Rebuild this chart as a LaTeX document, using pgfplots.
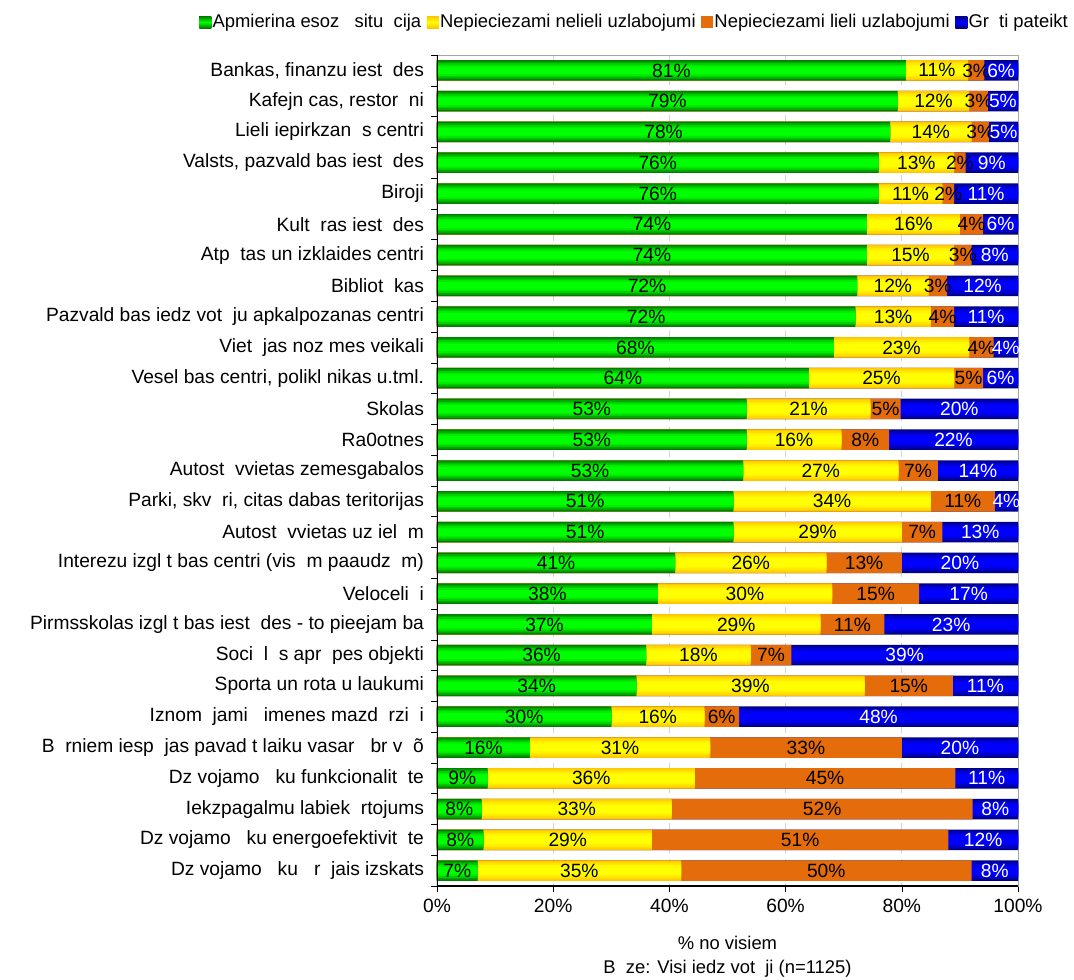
\documentclass[border=0pt]{standalone}
\usepackage{fontspec}
\setmainfont{Liberation Sans}
\usepackage{pgfplots}
\usepackage{pgfplotstable}
\pgfplotsset{compat=1.18}
\definecolor{gdark}{RGB}{0,120,0}
\definecolor{glight}{RGB}{0,255,0}
\definecolor{ydark}{RGB}{255,196,0}
\definecolor{ylight}{RGB}{255,255,0}
\definecolor{orng}{RGB}{228,108,10}
\definecolor{bdark}{RGB}{0,0,128}
\definecolor{blight}{RGB}{0,0,255}
\pgfplotstableread{
a b c d
80.7 10.7 2.8 5.8
79.3 12.3 3.2 5.2
78 14 3 5
76 13 2 9
76 11 2 11
74 16 4 6
74 15 3 8
72.3 12.3 3.2 12.2
72 13 4 11
68.3 23.3 4.2 4.2
64 25 5 6
53.3 21.3 5.2 20.2
53.3 16.3 8.2 22.2
52.7 26.7 6.8 13.8
51 34 11 4
51 29 7 13
41 26 13 20
38 30 15 17
37 29 11 23
36 18 7 39
34.3 39.3 15.2 11.2
30 16 6 48
16 31 33 20
8.7 35.7 44.8 10.8
7.7 32.7 51.8 7.8
8 29 51 12
7 35 50 8
}\data
\pgfplotsset{
  lay/.style={xbar, bar shift=0pt, draw=none, forget plot, bar width=#1},
  lab/.style={xbar, bar shift=0pt, bar width=0pt, draw=none, fill=none, forget plot,
    point meta=explicit,
    visualization depends on={\thisrow{#1} \as \segval},
    nodes near coords={\pgfmathprintnumber[fixed,precision=0]{\pgfplotspointmeta}\%},
    every node near coord/.append style={anchor=center, xshift={-\segval*1.4525pt},
      font=\fontsize{9.6}{11.5}\selectfont}},
}
\newcommand\gradbars[3]{%
  \addplot[lay=10.25pt, fill=#3!5!#2] table[x expr={#1}, y expr=\coordindex]{\data};
  \addplot[lay=8.8pt, fill=#3!35!#2] table[x expr={#1}, y expr=\coordindex]{\data};
  \addplot[lay=7.2pt, fill=#3!62!#2] table[x expr={#1}, y expr=\coordindex]{\data};
  \addplot[lay=5.6pt, fill=#3!85!#2] table[x expr={#1}, y expr=\coordindex]{\data};
  \addplot[lay=3.8pt, fill=#3] table[x expr={#1}, y expr=\coordindex]{\data};
}
\begin{document}
\begin{tikzpicture}
\begin{axis}[
  name=ax,
  scale only axis, width=290.5pt, height=415.5pt,
  every axis plot post/.append style={bar shift=0pt},
  xmin=0, xmax=100,
  ymin=-0.5, ymax=26.5, y dir=reverse,
  font=\fontsize{9.6}{11.5}\selectfont,
  /pgf/number format/assume math mode=true,
  xtick={0,20,40,60,80,100},
  xticklabel={\pgfmathprintnumber{\tick}\%},
  ytick={0,...,26},
  yticklabels={
    {Bankas, finanzu iest~~des},
    {Kafejn~cas, restor~~ni},
    {Lieli iepirkzan~~s centri},
    {Valsts, pazvald~bas iest~~des},
    {Biroji},
    {Kult~~ras iest~~des},
    {Atp~~tas un izklaides centri},
    {Bibliot~~kas},
    {Pazvald~bas iedz~vot~~ju apkalpozanas centri},
    {Viet~~jas noz~mes veikali},
    {Vesel~bas centri, polikl~nikas u.tml.},
    {Skolas},
    {Ra0otnes},
    {Autost~~vvietas zemesgabalos},
    {Parki, skv~~ri, citas dabas teritorijas},
    {Autost~~vvietas uz iel~~m},
    {Interezu izgl~t~bas centri (vis~~m paaudz~~m)},
    {Veloceli~~i},
    {Pirmsskolas izgl~t~bas iest~~des - to pieejam~ba},
    {Soci~~l~~s apr~~pes objekti},
    {Sporta un rota~u laukumi},
    {Iznom~~jami ~~imenes mazd~~rzi~~i},
    {B~~rniem iesp~~jas pavad~t laiku vasar~~~br~v~~õ},
    {Dz~vojamo~~~ku funkcionalit~~te},
    {Iekzpagalmu labiek~~rtojums},
    {Dz~vojamo~~~ku energoefektivit~~te},
    {Dz~vojamo~~~ku~~~r~~jais izskats}},
  minor ytick={-0.5,0.5,...,26.5},
  every major y tick/.append style={draw=none},
  tick align=outside, major tick length=3pt, minor tick length=3pt,
  tick style={black},
  xtick pos=bottom, ytick pos=left,
  xmajorgrids, grid style={dashed, gray!35},
  axis line style={gray!70},
  xlabel={\% no visiem\\B~~ze: Visi iedz~vot~~ji (n=1125)},
  xlabel style={align=center, font=\fontsize{9.2}{11.8}\selectfont, yshift=-5pt},
  legend style={at={(axis description cs:0,1)}, anchor=west, xshift=-119pt, yshift=16.5pt,
    draw=none, fill=none, font=\fontsize{9.2}{11}\selectfont, inner sep=0pt,
    nodes={inner sep=0.6pt},
    /tikz/every even column/.append style={column sep=2.2pt}},
  legend columns=-1,
  legend image code/.code={\fill[#1,draw=none] (0pt,-3pt) rectangle (6pt,3pt);},
]
\addlegendimage{top color=gdark, bottom color=gdark, middle color=glight}
\addlegendimage{top color=ydark, bottom color=ydark, middle color=ylight}
\addlegendimage{fill=orng}
\addlegendimage{top color=bdark, bottom color=bdark, middle color=blight}
\gradbars{\thisrow{a}+\thisrow{b}+\thisrow{c}+\thisrow{d}}{bdark}{blight}
\addplot[lay=10.25pt, fill=orng] table[x expr={\thisrow{a}+\thisrow{b}+\thisrow{c}}, y expr=\coordindex]{\data};
\gradbars{\thisrow{a}+\thisrow{b}}{ydark}{ylight}
\gradbars{\thisrow{a}}{gdark}{glight}
\addplot[lab=a, every node near coord/.append style={text=black}]
  table[x=a, y expr=\coordindex, meta=a]{\data};
\addplot[lab=b, every node near coord/.append style={text=black}]
  table[x expr={\thisrow{a}+\thisrow{b}}, y expr=\coordindex, meta=b]{\data};
\addplot[lab=c, every node near coord/.append style={text=black}]
  table[x expr={\thisrow{a}+\thisrow{b}+\thisrow{c}}, y expr=\coordindex, meta=c]{\data};
\addplot[lab=d, every node near coord/.append style={text=white}]
  table[x expr={\thisrow{a}+\thisrow{b}+\thisrow{c}+\thisrow{d}}, y expr=\coordindex, meta=d]{\data};
\legend{Apmierina esoz~~~situ~~cija, Nepieciezami nelieli uzlabojumi, Nepieciezami lieli uzlabojumi, Gr~~ti pateikt}
\draw[black, line width=0.9pt] (axis description cs:0,1) -- (axis description cs:0,0) -- (axis description cs:1,0);
\end{axis}
\pgfresetboundingbox
\path ([shift={(-218.5pt,-46.5pt)}]ax.south west) rectangle ([shift={(28pt,27.5pt)}]ax.north east);
\end{tikzpicture}
\end{document}
